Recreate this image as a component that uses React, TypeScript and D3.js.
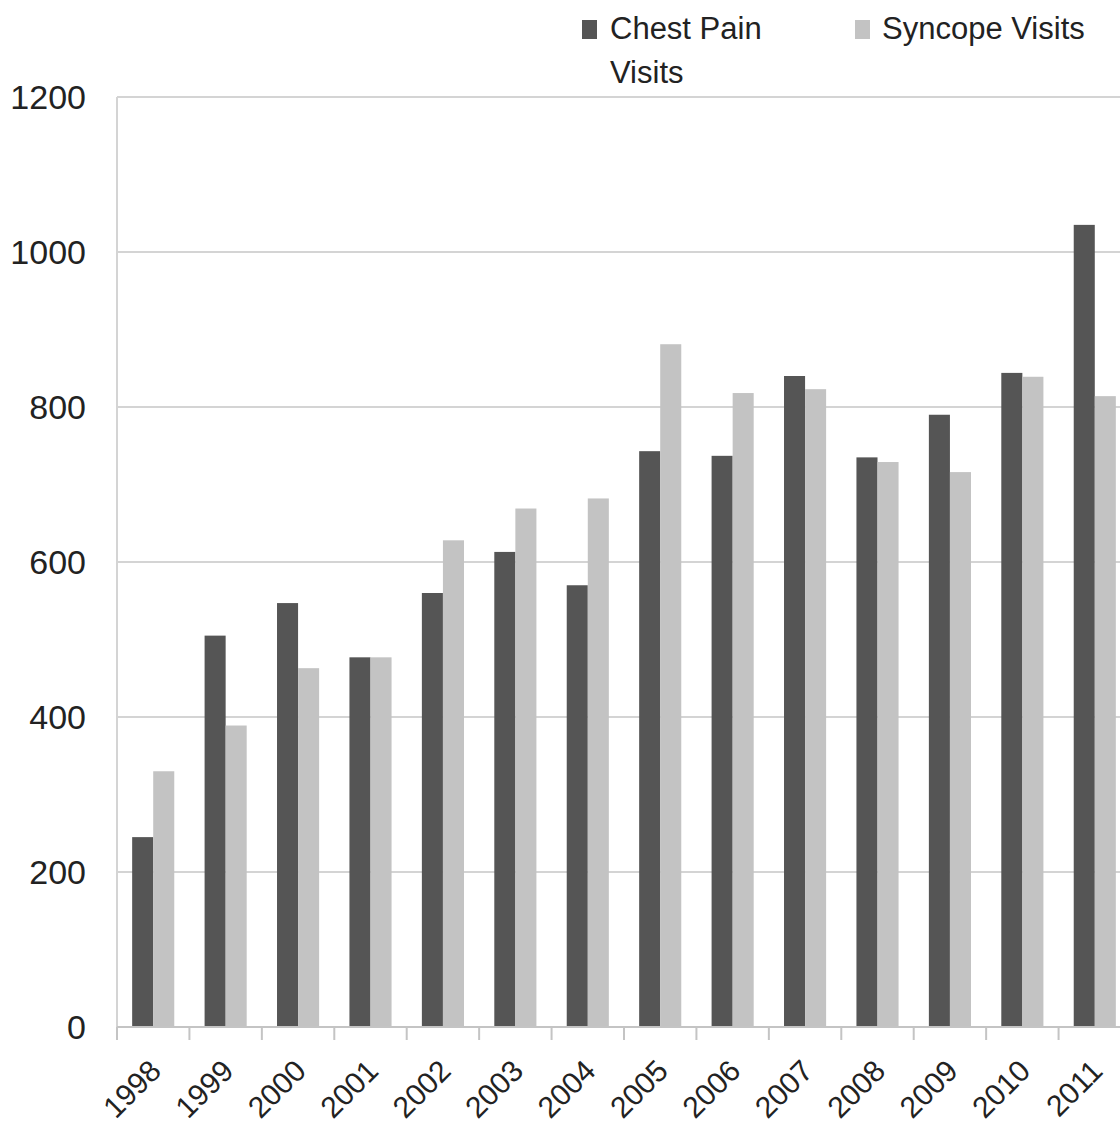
import React from "react";
import * as d3 from "d3";

const years = ["1998","1999","2000","2001","2002","2003","2004","2005","2006","2007","2008","2009","2010","2011"];
const chestPain = [245,505,547,477,560,613,570,743,737,840,735,790,844,1035];
const syncope = [330,389,463,477,628,669,682,881,818,823,729,716,839,814];
const yTicks = [0,200,400,600,800,1000,1200];
const colors = ["#555555","#c3c3c3"];

const W = 1120, H = 1128;
const left = 117, right = 1131, top = 97, bottom = 1027;
const FONT = "'Liberation Sans', Arial, sans-serif";

export default function App() {
  const x = d3.scaleBand<string>().domain(years).range([left, right]).paddingInner(0).paddingOuter(0);
  const inner = d3.scaleBand<number>().domain([0,1]).range([0, x.bandwidth()]).paddingOuter(0.72).paddingInner(0);
  const y = d3.scaleLinear().domain([0,1200]).range([bottom, top]);
  const series = [chestPain, syncope];
  return (
    <div style={{position:"absolute",left:0,top:0,width:W,height:H,overflow:"hidden",background:"#fff"}}>
      <svg width={W} height={H} style={{display:"block"}} fontFamily={FONT}>
        <rect width={W} height={H} fill="#fff"/>
        {yTicks.filter(t=>t>0).map(t => (
          <line key={t} x1={left} x2={W} y1={y(t)} y2={y(t)} stroke="#d4d4d4" strokeWidth={2}/>
        ))}
        <line x1={left} x2={left} y1={top} y2={bottom} stroke="#d4d4d4" strokeWidth={2}/>
        {yTicks.map(t => (
          <text key={t} x={86} y={y(t)} dy="0.36em" textAnchor="end" fontSize={34} fill="#222">{t}</text>
        ))}
        {years.map((yr, i) => series.map((s, j) => (
          <rect key={yr + j} x={(x(yr) as number) + (inner(j) as number)} y={y(s[i])}
            width={inner.bandwidth()} height={bottom - y(s[i])} fill={colors[j]}/>
        )))}
        <line x1={left} x2={W} y1={bottom} y2={bottom} stroke="#c4c4c4" strokeWidth={2}/>
        {years.map(yr => (
          <line key={yr} x1={x(yr)} x2={x(yr)} y1={bottom} y2={bottom + 13} stroke="#c4c4c4" strokeWidth={2}/>
        ))}
        {years.map(yr => {
          const cx = (x(yr) as number) + x.bandwidth() / 2 + 2;
          const cy = bottom + 38;
          return (
            <text key={yr} x={cx} y={cy} textAnchor="end" fontSize={30} fill="#222"
              transform={`rotate(-45, ${cx}, ${cy})`} dy="0.36em">{yr}</text>
          );
        })}
        <rect x={582} y={20} width={15} height={19} fill={colors[0]}/>
        <text x={610} y={39} fontSize={31} fill="#222">Chest Pain</text>
        <text x={610} y={83} fontSize={31} fill="#222">Visits</text>
        <rect x={855} y={20} width={15} height={19} fill={colors[1]}/>
        <text x={882} y={39} fontSize={31} fill="#222">Syncope Visits</text>
      </svg>
    </div>
  );
}
